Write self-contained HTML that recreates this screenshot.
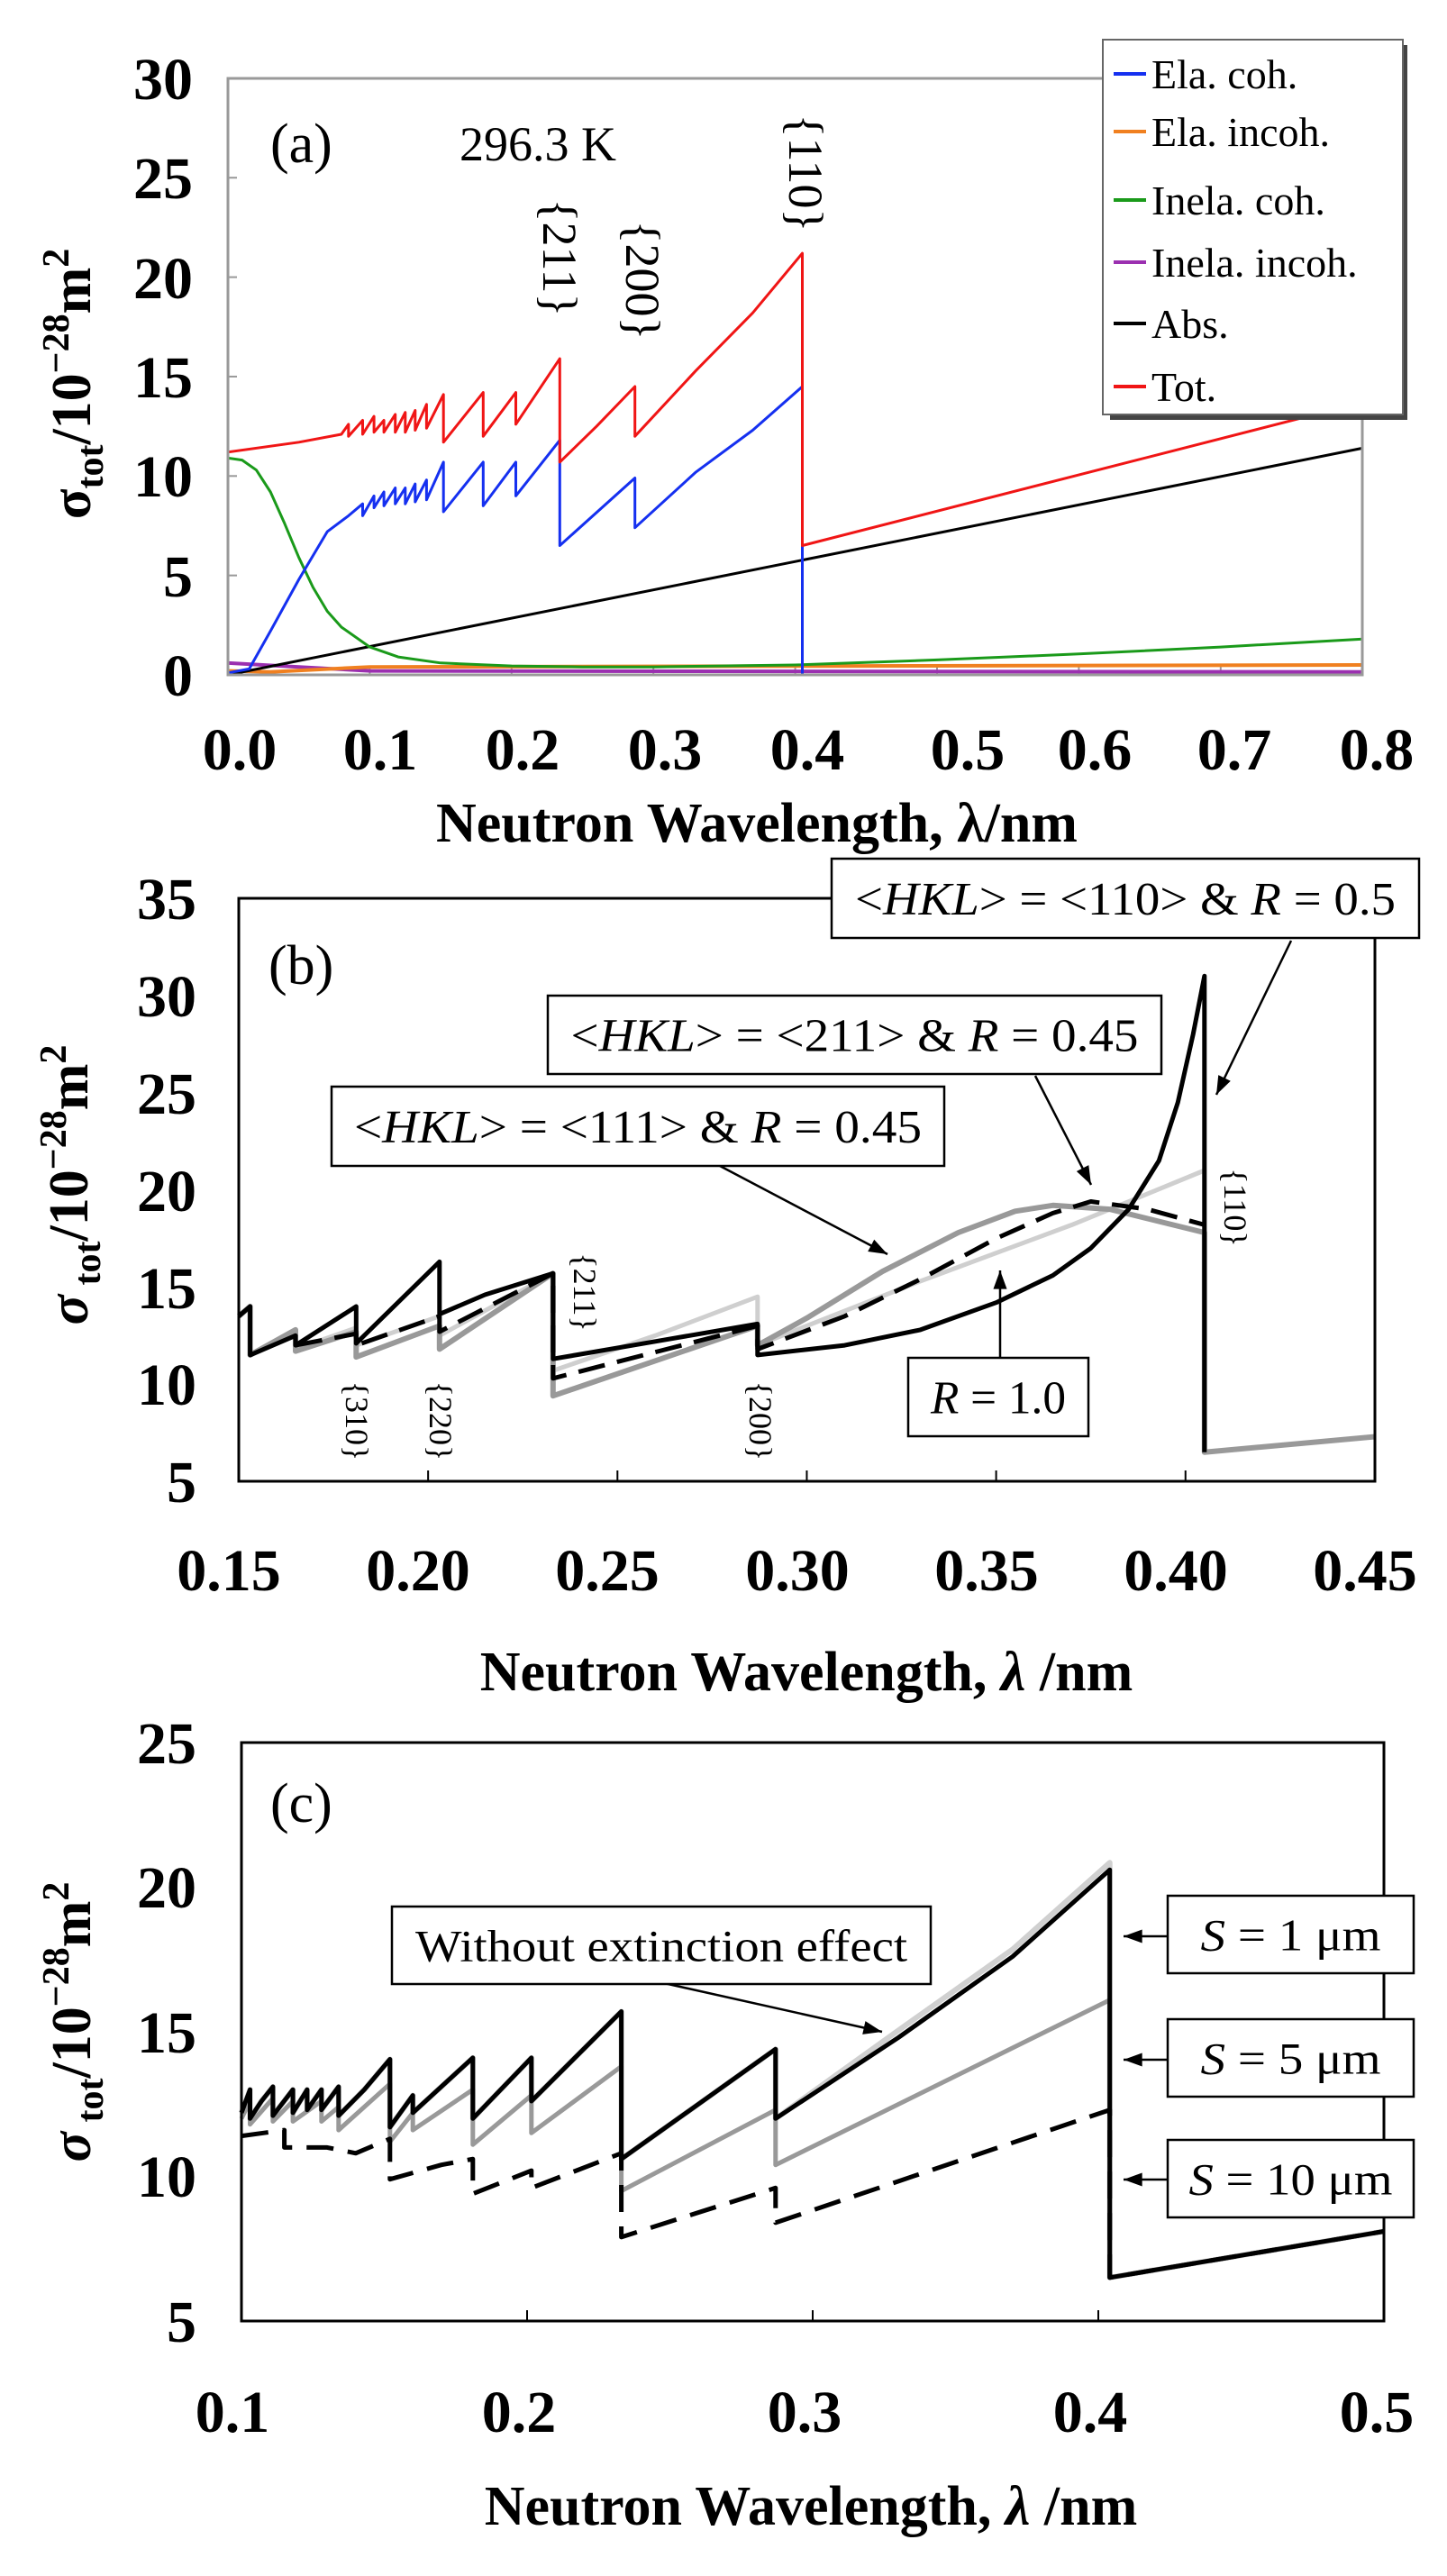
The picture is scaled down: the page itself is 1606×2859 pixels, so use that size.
<!DOCTYPE html>
<html><head><meta charset="utf-8"><style>
html,body{margin:0;padding:0;background:#fff}
svg{display:block}
text{font-family:"Liberation Serif",serif}
.tk{font-size:66px;font-weight:bold}
.tt{font-size:62px;font-weight:bold}
.lg{font-size:46px}
</style></head><body>
<svg id="s" width="1606" height="2859" viewBox="0 0 1606 2859" xmlns="http://www.w3.org/2000/svg">
<rect width="1606" height="2859" fill="#fff"/>
<g id="curves"></g>

<!-- ===== Panel A ===== -->
<rect x="253" y="87" width="1259" height="662" fill="none" stroke="#999" stroke-width="3"/>
<g class="tk" text-anchor="end">
<text x="214" y="110">30</text><text x="214" y="220">25</text><text x="214" y="331">20</text>
<text x="214" y="441">15</text><text x="214" y="551">10</text><text x="214" y="662">5</text><text x="214" y="772">0</text>
</g>
<g class="tk" text-anchor="middle">
<text x="266" y="854">0.0</text><text x="422" y="854">0.1</text><text x="580" y="854">0.2</text><text x="738" y="854">0.3</text>
<text x="896" y="854">0.4</text><text x="1074" y="854">0.5</text><text x="1215" y="854">0.6</text><text x="1370" y="854">0.7</text><text x="1528" y="854">0.8</text>
</g>
<text class="tt" x="840" y="934" text-anchor="middle">Neutron Wavelength, λ/nm</text>
<g transform="translate(100,426) rotate(-90)"><text class="tt" text-anchor="middle">σ<tspan font-size="42" dy="14">tot</tspan><tspan dy="-14">/10</tspan><tspan font-size="42" dy="-24">−28</tspan><tspan dy="24">m</tspan><tspan font-size="42" dy="-24">2</tspan></text></g>
<text x="300" y="180" font-size="62">(a)</text>
<text x="510" y="178" font-size="54">296.3 K</text>
<text transform="translate(603,286) rotate(90)" font-size="54" text-anchor="middle">{211}</text>
<text transform="translate(695,311) rotate(90)" font-size="54" text-anchor="middle">{200}</text>
<text transform="translate(876,192) rotate(90)" font-size="54" text-anchor="middle">{110}</text>

<!-- ===== Panel B ===== -->
<rect x="265" y="997" width="1261" height="647" fill="none" stroke="#000" stroke-width="3"/>
<g class="tk" text-anchor="end">
<text x="218" y="1020">35</text><text x="218" y="1128">30</text><text x="218" y="1236">25</text><text x="218" y="1344">20</text>
<text x="218" y="1452">15</text><text x="218" y="1559">10</text><text x="218" y="1667">5</text>
</g>
<g class="tk" text-anchor="middle">
<text x="254" y="1765">0.15</text><text x="464" y="1765">0.20</text><text x="674" y="1765">0.25</text><text x="885" y="1765">0.30</text>
<text x="1095" y="1765">0.35</text><text x="1305" y="1765">0.40</text><text x="1515" y="1765">0.45</text>
</g>
<text class="tt" x="895" y="1876" text-anchor="middle">Neutron Wavelength, <tspan font-style="italic">λ</tspan> /nm</text>
<g transform="translate(97,1315) rotate(-90)"><text class="tt" text-anchor="middle"><tspan font-style="italic">σ</tspan><tspan font-size="42" dy="14"> tot</tspan><tspan dy="-14">/10</tspan><tspan font-size="42" dy="-24">−28</tspan><tspan dy="24">m</tspan><tspan font-size="42" dy="-24">2</tspan></text></g>
<text x="298" y="1092" font-size="62">(b)</text>
<text transform="translate(384,1577) rotate(90)" font-size="36" text-anchor="middle">{310}</text>
<text transform="translate(477,1577) rotate(90)" font-size="36" text-anchor="middle">{220}</text>
<text transform="translate(832,1577) rotate(90)" font-size="36" text-anchor="middle">{200}</text>
<text transform="translate(637,1434) rotate(90)" font-size="36" text-anchor="middle">{211}</text>
<text transform="translate(1359,1340) rotate(90)" font-size="36" text-anchor="middle">{110}</text>

<!-- ===== Panel C ===== -->
<rect x="268" y="1934" width="1268" height="642" fill="none" stroke="#000" stroke-width="3"/>
<g class="tk" text-anchor="end">
<text x="218" y="1957">25</text><text x="218" y="2117">20</text><text x="218" y="2278">15</text>
<text x="218" y="2438">10</text><text x="218" y="2599">5</text>
</g>
<g class="tk" text-anchor="middle">
<text x="258" y="2699">0.1</text><text x="576" y="2699">0.2</text><text x="893" y="2699">0.3</text>
<text x="1210" y="2699">0.4</text><text x="1528" y="2699">0.5</text>
</g>
<text class="tt" x="900" y="2802" text-anchor="middle">Neutron Wavelength, <tspan font-style="italic">λ</tspan> /nm</text>
<g transform="translate(100,2244) rotate(-90)"><text class="tt" text-anchor="middle"><tspan font-style="italic">σ</tspan><tspan font-size="42" dy="14"> tot</tspan><tspan dy="-14">/10</tspan><tspan font-size="42" dy="-24">−28</tspan><tspan dy="24">m</tspan><tspan font-size="42" dy="-24">2</tspan></text></g>
<text x="300" y="2022" font-size="62">(c)</text>

<g id="over"></g>
</svg>
<script>
(function(){
var NS="http://www.w3.org/2000/svg";
var C=document.getElementById("curves"),O=document.getElementById("over");
function el(p,t,a){var e=document.createElementNS(NS,t);for(var k in a)e.setAttribute(k,a[k]);p.appendChild(e);return e;}
var A=function(l,v){return [253+l*1574,749-v*22.07]};
var B=function(l,v){return [265+(l-0.15)*4203,997+(35-v)*21.57]};
var Cc=function(l,v){return [268+(l-0.1)*3170,1934+(25-v)*32.1]};
function line(f,pts,col,w,dash){var d=pts.map(function(p,i){var q=f(p[0],p[1]);return (i?"L":"M")+q[0].toFixed(1)+","+q[1].toFixed(1)}).join("");
 var a={d:d,fill:"none",stroke:col,"stroke-width":w,"stroke-linejoin":"round"};if(dash)a["stroke-dasharray"]=dash;el(C,"path",a);}
for(var i=1;i<8;i++){var x=253+i*0.1*1574;el(C,"line",{x1:x,y1:749,x2:x,y2:739,stroke:"#999","stroke-width":2});}
for(var i=1;i<6;i++){var y=749-i*5*22.07;el(C,"line",{x1:253,y1:y,x2:263,y2:y,stroke:"#999","stroke-width":2});}
for(var i=1;i<6;i++){var x=265+i*0.05*4203;el(C,"line",{x1:x,y1:1644,x2:x,y2:1632,stroke:"#000","stroke-width":2});}
for(var i=1;i<4;i++){var x=268+i*0.1*3170;el(C,"line",{x1:x,y1:2576,x2:x,y2:2564,stroke:"#000","stroke-width":2});}
// Panel A
line(A,[[0,0.6],[0.05,0.4],[0.1,0.2],[0.8,0.15]],"#9b30b0",4);
line(A,[[0,0.2],[0.03,0.15],[0.1,0.4],[0.8,0.5]],"#f08020",4);
line(A,[[0,0],[0.8,11.4]],"#000",3);
line(A,[[0,10.9],[0.01,10.8],[0.02,10.3],[0.03,9.2],[0.04,7.6],[0.05,5.9],[0.06,4.4],[0.07,3.2],[0.08,2.4],[0.1,1.4],[0.12,0.9],[0.15,0.6],[0.2,0.45],[0.25,0.4],[0.3,0.4],[0.4,0.5],[0.5,0.75],[0.6,1.05],[0.7,1.4],[0.8,1.8]],"#1a9a1a",3);
line(A,[[0,0.1],[0.015,0.3],[0.03,2.2],[0.05,4.8],[0.07,7.2],[0.085,8],[0.095,8.6],[0.095,8],[0.103,9],[0.103,8.4],[0.11,9.2],[0.11,8.5],[0.118,9.4],[0.118,8.6],[0.125,9.4],[0.125,8.6],[0.132,9.6],[0.132,8.7],[0.14,9.8],[0.14,8.8],[0.152,10.7],[0.152,8.2],[0.18,10.7],[0.18,8.5],[0.203,10.7],[0.203,9.0],[0.234,11.8],[0.234,6.5],[0.287,9.9],[0.287,7.4],[0.33,10.2],[0.37,12.3],[0.405,14.5],[0.405,0]],"#1530f0",3);
line(A,[[0,11.2],[0.05,11.7],[0.08,12.1],[0.085,12.6],[0.085,12.0],[0.095,12.8],[0.095,12.1],[0.103,13.0],[0.103,12.2],[0.11,12.8],[0.11,12.2],[0.118,13.1],[0.118,12.2],[0.125,13.2],[0.125,12.2],[0.132,13.3],[0.132,12.3],[0.14,13.6],[0.14,12.4],[0.152,14.1],[0.152,11.7],[0.18,14.2],[0.18,12.0],[0.203,14.2],[0.203,12.6],[0.234,15.9],[0.234,10.7],[0.26,12.5],[0.287,14.5],[0.287,12.0],[0.33,15.3],[0.37,18.2],[0.405,21.2],[0.405,6.5],[0.8,13.7]],"#f01515",3);
// Panel B
line(B,[[0.15,13.5],[0.153,14],[0.153,11.5],[0.165,12.8],[0.165,11.8],[0.181,12.9],[0.181,12.0],[0.203,13.5],[0.203,12.5],[0.233,15.7],[0.233,10.7],[0.26,12.5],[0.287,14.5],[0.287,12],[0.33,15.3],[0.37,18.2],[0.405,21],[0.405,6.5],[0.45,7.3]],"#cfcfcf",5);
line(B,[[0.15,13.5],[0.153,14],[0.153,11.5],[0.165,12.8],[0.165,11.7],[0.181,12.7],[0.181,11.4],[0.203,13],[0.203,11.8],[0.233,15.7],[0.233,9.4],[0.287,13],[0.287,12],[0.30,13.4],[0.32,15.8],[0.34,17.8],[0.355,18.9],[0.365,19.2],[0.38,19],[0.405,17.8],[0.405,6.5],[0.45,7.3]],"#999",6);
line(B,[[0.165,12],[0.181,12.6],[0.181,12],[0.203,13.5],[0.203,12.7],[0.233,15.7],[0.233,10.3],[0.287,13],[0.287,11.8],[0.31,13.5],[0.33,15.4],[0.35,17.5],[0.365,18.8],[0.375,19.4],[0.39,19],[0.405,18.2]],"#000",5,"30 14");
line(B,[[0.15,13.5],[0.153,14],[0.153,11.5],[0.165,12.5],[0.165,12],[0.181,14],[0.181,12.1],[0.203,16.3],[0.203,13.6],[0.215,14.6],[0.233,15.7],[0.233,11.3],[0.26,12.2],[0.287,13.1],[0.287,11.5],[0.31,12],[0.33,12.8],[0.35,14.2],[0.365,15.6],[0.375,17],[0.385,19],[0.393,21.5],[0.398,24.5],[0.402,28],[0.405,31],[0.405,6.5]],"#000",5);
// Panel C
var blk=[[0.1,12.2],[0.103,13],[0.103,12],[0.107,12.6],[0.111,13.1],[0.111,12.1],[0.118,13],[0.118,12.2],[0.123,13],[0.123,12.3],[0.128,13],[0.128,12.3],[0.134,13.1],[0.134,12.1],[0.143,13],[0.152,14.05],[0.152,11.7],[0.16,12.8],[0.16,12.2],[0.181,14.1],[0.181,12],[0.2015,14.1],[0.2015,12.6],[0.233,15.7],[0.233,10.6],[0.287,14.4],[0.287,12],[0.33,14.8],[0.37,17.6],[0.404,20.6],[0.404,6.5],[0.5,8.1]];
line(Cc,blk.map(function(p){return [p[0],p[0]>0.3&&p[1]>14?p[1]+0.25:p[1]]}),"#d0d0d0",6);
line(Cc,[[0.1,12],[0.103,12.6],[0.103,11.8],[0.111,12.7],[0.111,11.9],[0.118,12.6],[0.118,11.9],[0.128,12.6],[0.128,11.9],[0.134,12.4],[0.134,11.6],[0.152,13.2],[0.152,11.2],[0.16,12.2],[0.16,11.6],[0.181,13],[0.181,11.1],[0.2015,12.8],[0.2015,11.5],[0.233,13.8],[0.233,9.5],[0.287,12.3],[0.287,10.4],[0.404,16.1],[0.404,6.5]],"#999",5);
line(Cc,[[0.1,11.4],[0.115,11.6],[0.115,11],[0.13,11],[0.14,10.8],[0.152,11.3],[0.152,9.9],[0.17,10.4],[0.181,10.6],[0.181,9.4],[0.2015,10.2],[0.2015,9.6],[0.233,10.8],[0.233,7.9],[0.287,9.6],[0.287,8.4],[0.404,12.3],[0.404,6.5],[0.5,8.1]],"#000",5,"30 16");
line(Cc,blk,"#000",5);
// legend
el(O,"rect",{x:1232,y:50,width:330,height:416,fill:"#444"});
el(O,"rect",{x:1224,y:44,width:333,height:416,fill:"#fff",stroke:"#666","stroke-width":2});
var L=[["Ela. coh.","#1530f0",82],["Ela. incoh.","#f08020",146],["Inela. coh.","#1a9a1a",222],["Inela. incoh.","#9b30b0",291],["Abs.","#000",359],["Tot.","#f01515",429]];
L.forEach(function(r){el(O,"line",{x1:1236,y1:r[2],x2:1272,y2:r[2],stroke:r[1],"stroke-width":4});var t=el(O,"text",{x:1278,y:r[2]+16,"class":"lg"});t.textContent=r[0];});
function box(x,y,w,h,parts,fs,tl){el(O,"rect",{x:x,y:y,width:w,height:h,fill:"#fff",stroke:"#000","stroke-width":2.5});
 var t=el(O,"text",{x:x+w/2,y:y+h/2+fs*0.35,"text-anchor":"middle","font-size":fs});
 if(tl){t.setAttribute("textLength",tl);t.setAttribute("lengthAdjust","spacingAndGlyphs");}
 parts.forEach(function(p){var s=document.createElementNS(NS,"tspan");if(p[1])s.setAttribute("font-style","italic");s.textContent=p[0];t.appendChild(s);});}
function arrow(x1,y1,x2,y2){el(O,"line",{x1:x1,y1:y1,x2:x2,y2:y2,stroke:"#000","stroke-width":2.5});
 var a=Math.atan2(y2-y1,x2-x1),L=22,w=0.35;
 el(O,"polygon",{points:x2+","+y2+" "+(x2-L*Math.cos(a-w))+","+(y2-L*Math.sin(a-w))+" "+(x2-L*Math.cos(a+w))+","+(y2-L*Math.sin(a+w)),fill:"#000"});}
arrow(1433,1044,1350,1215);arrow(1149,1194,1211,1315);arrow(799,1294,985,1392);arrow(1110,1507,1110,1410);
box(923,953,652,88,[["<"],["HKL",1],["> = <110> & "],["R",1],[" = 0.5"]],52,600);
box(608,1105,681,87,[["<"],["HKL",1],["> = <211> & "],["R",1],[" = 0.45"]],52,630);
box(368,1206,680,88,[["<"],["HKL",1],["> = <111> & "],["R",1],[" = 0.45"]],52,630);
box(1008,1507,200,87,[["R",1],[" = 1.0"]],52,150);
arrow(737,2201,979,2255);
box(435,2116,598,86,[["Without extinction effect"]],50,546);
box(1296,2104,273,86,[["S",1],[" = 1 μm"]],50,200);
box(1296,2241,273,86,[["S",1],[" = 5 μm"]],50,200);
box(1296,2375,273,86,[["S",1],[" = 10 μm"]],50,226);
arrow(1296,2149,1247,2149);arrow(1296,2286,1247,2286);arrow(1296,2419,1247,2419);
})();
</script>
</body></html>
